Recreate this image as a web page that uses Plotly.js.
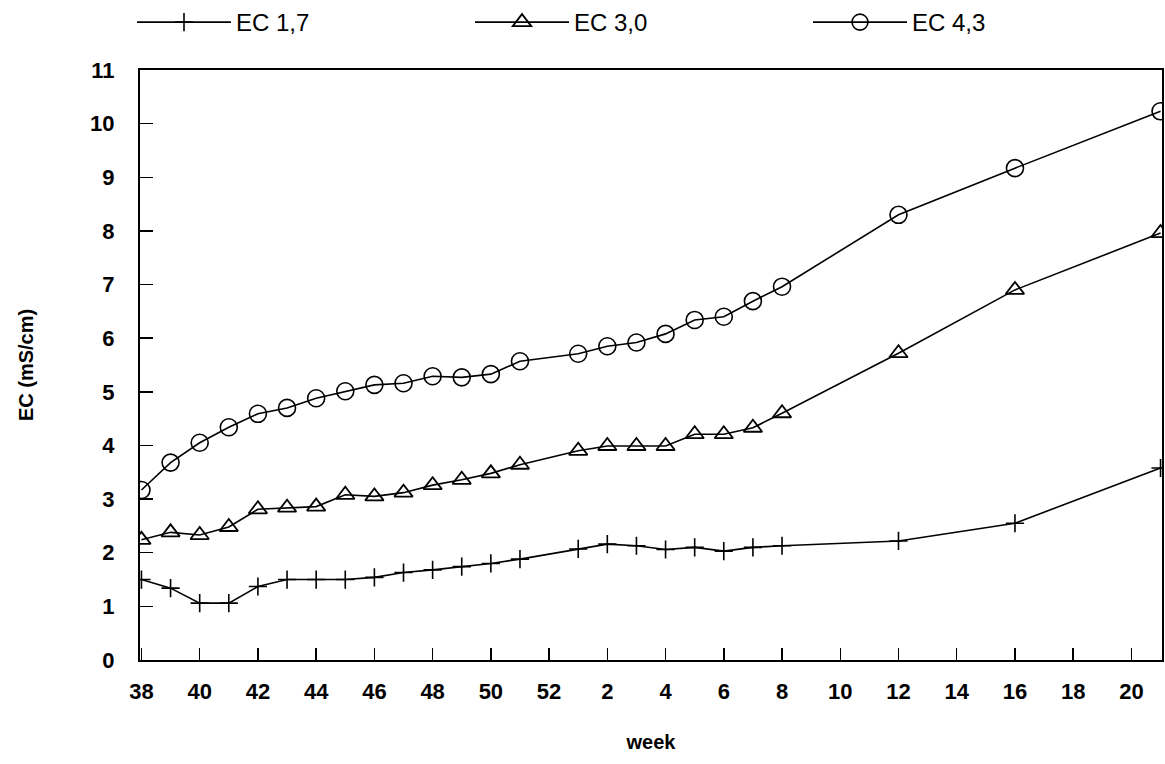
<!DOCTYPE html>
<html><head><meta charset="utf-8">
<script src="https://cdn.plot.ly/plotly-3.0.1.min.js"></script>
<style>html,body{margin:0;padding:0;background:#fff}#chart{width:1165px;height:764px}</style>
</head><body><div id="chart"></div>
<script>
// Week numbers (season wraps from week 52 to week 1 of the next year)
const weeks = [38,39,40,41,42,43,44,45,46,47,48,49,50,51,1,2,3,4,5,6,7,8,12,16,21];
const ec17 = [1.50,1.34,1.06,1.06,1.37,1.50,1.50,1.50,1.54,1.63,1.68,1.74,1.80,1.88,2.07,2.16,2.13,2.06,2.10,2.03,2.10,2.13,2.22,2.55,3.58];
const ec30 = [2.24,2.38,2.33,2.48,2.81,2.84,2.86,3.08,3.05,3.12,3.26,3.36,3.48,3.64,3.90,3.99,3.99,3.99,4.21,4.21,4.33,4.60,5.72,6.90,7.96];
const ec43 = [3.17,3.68,4.05,4.34,4.59,4.70,4.88,5.01,5.13,5.16,5.29,5.27,5.33,5.57,5.71,5.85,5.92,6.08,6.34,6.40,6.69,6.96,8.30,9.17,10.23];
const seriesNames = ["EC 1,7","EC 3,0","EC 4,3"];
const xTickLabels = [38,40,42,44,46,48,50,52,2,4,6,8,10,12,14,16,18,20];
const yTickLabels = [0,1,2,3,4,5,6,7,8,9,10,11];

// continuous position across the year boundary
const pos = w => (w >= 38 ? w : w + 52);
const xs = weeks.map(pos);

const FONT = "Liberation Sans, Arial, sans-serif";
const lineStyle = {color:"#000", width:1.6};

const traces = [
  {x: xs, y: ec17, name: seriesNames[0], mode: "lines+markers", line: lineStyle,
   marker: {symbol: "cross-thin-open", size: 13, color: "#000", line: {color: "#000", width: 1.6}}},
  {x: xs, y: ec30, name: seriesNames[1], mode: "lines+markers", line: lineStyle,
   marker: {symbol: "triangle-up-open", size: 16, color: "#000", line: {color: "#000", width: 1.8}}},
  {x: xs, y: ec43, name: seriesNames[2], mode: "lines+markers", line: lineStyle,
   marker: {symbol: "circle-open", size: 17, color: "#000", line: {color: "#000", width: 1.6}}}
];

const layout = {
  width: 1165, height: 764,
  margin: {l: 140, r: 3, t: 70, b: 104},
  paper_bgcolor: "#fff", plot_bgcolor: "#fff",
  font: {family: FONT, color: "#000"},
  showlegend: true,
  legend: {
    orientation: "h", xref: "container", yref: "container",
    x: 132/1165, y: 1, xanchor: "left", yanchor: "top",
    font: {family: FONT, size: 24, color: "#000"},
    itemwidth: 94, entrywidth: 229, traceorder: "normal",
    bgcolor: "rgba(0,0,0,0)"
  },
  xaxis: {
    range: [37.95, 73.05], showgrid: false, zeroline: false,
    showline: true, linecolor: "#000", linewidth: 2, mirror: true,
    ticks: "inside", ticklen: 12, tickwidth: 1.5, tickcolor: "#000",
    tickvals: xTickLabels.map(pos), ticktext: xTickLabels.map(String),
    tickfont: {family: FONT, size: 22, color: "#000", weight: "bold"},
    ticklabelstandoff: 11,
    title: {text: "week", font: {family: FONT, size: 20, color: "#000", weight: "bold"}, standoff: 32}
  },
  yaxis: {
    range: [0, 11], showgrid: false, zeroline: false,
    showline: true, linecolor: "#000", linewidth: 2, mirror: true,
    ticks: "inside", ticklen: 13, tickwidth: 1.5, tickcolor: "#000",
    tickvals: yTickLabels, ticktext: yTickLabels.map(String),
    tickfont: {family: FONT, size: 22, color: "#000", weight: "bold"},
    ticklabelstandoff: 19,
    title: {text: "EC (mS/cm)", font: {family: FONT, size: 20, color: "#000", weight: "bold"}, standoff: 51}
  }
};

Plotly.newPlot("chart", traces, layout, {displayModeBar: false, staticPlot: true});
</script>
</body></html>
